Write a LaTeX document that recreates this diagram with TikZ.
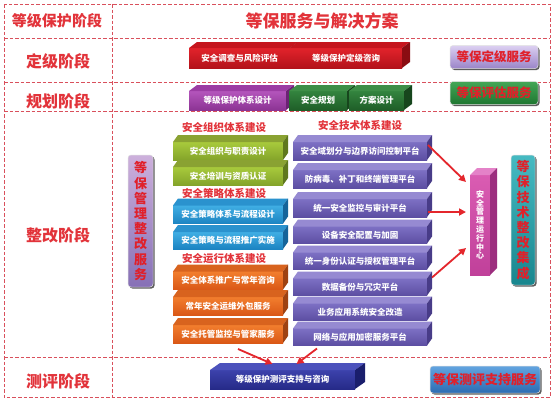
\documentclass[tikz,border=0pt]{standalone}
\usepackage{fontspec}
\setmainfont{Noto Sans CJK SC}
\usetikzlibrary{arrows.meta,shadows,calc}
% red
\definecolor{rdF}{HTML}{E2232B}\definecolor{rdB}{HTML}{B3121A}\definecolor{rdT}{HTML}{C5151D}\definecolor{rdS}{HTML}{8A0D12}
% magenta purple
\definecolor{puF}{HTML}{B455BC}\definecolor{puB}{HTML}{8C3494}\definecolor{puT}{HTML}{9C3CA4}\definecolor{puS}{HTML}{6C2274}
% dark green
\definecolor{dgF}{HTML}{33843E}\definecolor{dgB}{HTML}{1F5E28}\definecolor{dgT}{HTML}{3E8E47}\definecolor{dgS}{HTML}{17461D}
% light green
\definecolor{lgF}{HTML}{A8CA3C}\definecolor{lgB}{HTML}{84A42A}\definecolor{lgT}{HTML}{8AA232}\definecolor{lgS}{HTML}{5F781E}
% blue
\definecolor{blF}{HTML}{40AEE4}\definecolor{blB}{HTML}{1C84C2}\definecolor{blT}{HTML}{2A92CE}\definecolor{blS}{HTML}{15649A}
% orange
\definecolor{orF}{HTML}{F27E2E}\definecolor{orB}{HTML}{DA5816}\definecolor{orT}{HTML}{D8631E}\definecolor{orS}{HTML}{9E4212}
% tech purple
\definecolor{tpF}{HTML}{7D70C4}\definecolor{tpB}{HTML}{5C4EA2}\definecolor{tpT}{HTML}{968AD2}\definecolor{tpS}{HTML}{483C88}
% indigo
\definecolor{inF}{HTML}{3C42AC}\definecolor{inB}{HTML}{262A88}\definecolor{inT}{HTML}{4C52BC}\definecolor{inS}{HTML}{1A1E6C}
% pink
\definecolor{pkF}{HTML}{DA5CB2}\definecolor{pkB}{HTML}{C0409A}\definecolor{pkT}{HTML}{E482C8}\definecolor{pkS}{HTML}{9C2E7E}
% buttons
\definecolor{lvT}{HTML}{DCD0F2}\definecolor{lvB}{HTML}{9A84C8}
\definecolor{gnT}{HTML}{44A656}\definecolor{gnB}{HTML}{1E7630}
\definecolor{bbT}{HTML}{62A4E0}\definecolor{bbB}{HTML}{2C6CB2}
\definecolor{vpT}{HTML}{CDB0DC}\definecolor{vpB}{HTML}{8670B6}
\definecolor{tlT}{HTML}{46BAC2}\definecolor{tlB}{HTML}{18868E}
\definecolor{hdred}{HTML}{E2333A}
\definecolor{btnred}{HTML}{E0202A}
\definecolor{gridred}{HTML}{D9505C}
\definecolor{arrred}{HTML}{E4262C}
\newcommand\cubebox[8][]{%
  \node[frontbox, minimum width=#4pt, minimum height=#5pt, top color=#7F, bottom color=#7B, #1] (#2) at (#3) {#8};
  \fill[#7T] (#2.north west) -- ++(#6) -- ($(#2.north east)+(#6)$) -- (#2.north east) -- cycle;
  \fill[#7S] (#2.north east) -- ++(#6) -- ($(#2.south east)+(#6)$) -- (#2.south east) -- cycle;
}
\begin{document}
\begin{tikzpicture}[x=1pt,y=-1pt,
  grid/.style={draw=gridred, line width=0.9pt, dash pattern=on 3.5pt off 2pt},
  head/.style={text=hdred, font=\fontsize{16}{18}\selectfont\bfseries, inner sep=0},
  frontbox/.style={inner sep=0, outer sep=0, text=white, align=center, font=\fontsize{8.5}{10}\selectfont\bfseries},
  sect/.style={text=hdred, font=\fontsize{10.5}{12}\selectfont\bfseries, inner sep=0},
  btn/.style={rounded corners=3pt, inner sep=0, draw=white!75!gray, line width=0.5pt, align=center,
    drop shadow={shadow xshift=1.5pt, shadow yshift=-1.5pt, fill=black!75, opacity=0.85},
    text=btnred, font=\fontsize{12.5}{14}\selectfont\bfseries},
  vbtn/.style={font=\fontsize{13}{15.2}\selectfont\bfseries},
  arr/.style={draw=arrred, line width=1.8pt, -{Triangle[length=7pt,width=7pt]}},
]
\useasboundingbox (0,0) rectangle (554,400);
\fill[white] (0,0) rectangle (554,400);
% grid
\draw[grid] (4,4) rectangle (550,397);
\draw[grid] (112,4) -- (112,397);
\foreach \yy in {38,82,111,357} \draw[grid] (4,\yy) -- (550,\yy);
% headers
\node[head, font=\fontsize{15}{17}\selectfont\bfseries] (hstage) at (57,21) {等级保护阶段};
\node[head, font=\fontsize{17}{19}\selectfont\bfseries] (htitle) at (322,21) {等保服务与解决方案};
\node[head] (h1) at (58,61) {定级阶段};
\node[head] (h2) at (58,101) {规划阶段};
\node[head] (h3) at (58,235) {整改阶段};
\node[head] (h4) at (58,381) {测评阶段};
% row 1
\cubebox{r1}{239.5,58}{101}{20}{8,-6}{rd}{安全调查与风险评估}
\cubebox{r2}{346,58}{112}{20}{8,-6}{rd}{等级保护定级咨询}
% row 2
\cubebox{p1}{237.5,100.5}{97}{19}{8,-6}{pu}{等级保护体系设计}
\cubebox{p2}{318,100.5}{58}{19}{8,-6}{dg}{安全规划}
\cubebox{p3}{376.5,100.5}{55}{19}{8,-6}{dg}{方案设计}
% buttons right
\node[btn, minimum width=88pt, minimum height=23pt, top color=lvT, bottom color=lvB] (bdj) at (494,57) {等保定级服务};
\node[btn, minimum width=88pt, minimum height=23pt, top color=gnT, bottom color=gnB] (bpg) at (494,93) {等保评估服务};
% management side
\node[sect] (s1) at (224,127) {安全组织体系建设};
\node[sect] (s2) at (224,193) {安全策略体系建设};
\node[sect] (s3) at (224,259) {安全运行体系建设};
\node[sect] (s4) at (360,125) {安全技术体系建设};
\cubebox{g1}{228,151}{110}{18}{5,-7}{lg}{安全组织与职责设计}
\cubebox{g2}{228,176}{110}{18}{5,-7}{lg}{安全培训与资质认证}
\cubebox{b1}{228,214.5}{110}{18}{5,-7}{bl}{安全策略体系与流程设计}
\cubebox{b2}{228,240.5}{110}{17}{5,-7}{bl}{安全策略与流程推广实施}
\cubebox{o1}{228,280.5}{110}{18}{5,-7}{or}{安全体系推广与常年咨询}
\cubebox{o2}{228,306}{110}{18}{5,-7}{or}{常年安全运维外包服务}
\cubebox{o3}{228,334}{110}{18}{5,-7}{or}{安全托管监控与管家服务}
% technical side
\cubebox{t1}{360,151}{134}{18}{5,-7}{tp}{安全域划分与边界访问控制平台}
\cubebox{t2}{360,179}{134}{18}{5,-7}{tp}{防病毒、补丁和终端管理平台}
\cubebox{t3}{360,208}{134}{18}{5,-7}{tp}{统一安全监控与审计平台}
\cubebox{t4}{360,235}{134}{17}{5,-7}{tp}{设备安全配置与加固}
\cubebox{t5}{360,261}{134}{17}{5,-7}{tp}{统一身份认证与授权管理平台}
\cubebox{t6}{360,287}{134}{17}{5,-7}{tp}{数据备份与冗灾平台}
\cubebox{t7}{360,312}{134}{17}{5,-7}{tp}{业务应用系统安全改造}
\cubebox{t8}{360,337}{134}{17}{5,-7}{tp}{网络与应用加密服务平台}
% center
\cubebox[font=\fontsize{8}{8.8}\selectfont\bfseries]{ctr}{480,225}{20}{100}{7,-7}{pk}{安\\全\\管\\理\\运\\行\\中\\心}
% vertical buttons
\node[btn, vbtn, minimum width=25pt, minimum height=132pt, top color=vpT, bottom color=vpB] (bgl) at (140.5,221) {等\\保\\管\\理\\整\\改\\服\\务};
\node[btn, vbtn, minimum width=24pt, minimum height=130pt, top color=tlT, bottom color=tlB] (bjs) at (523,220) {等\\保\\技\\术\\整\\改\\集\\成};
% evaluation
\cubebox{ev}{282.5,379.5}{145}{19}{10,-7}{in}{等级保护测评支持与咨询}
\node[btn, minimum width=110pt, minimum height=27pt, top color=bbT, bottom color=bbB, font=\fontsize{13}{15}\selectfont\bfseries] (bcp) at (485,379.5) {等保测评支持服务};
% arrows
\draw[arr] ($(t1.north east)+(1,3)$) -- ($(ctr.north west)+(-4,7)$);
\draw[arr] ($(t3.east)+(1,4)$) -- ($(t3.east -| ctr.west)+(-4,4)$);
\draw[arr] ($(t6.north east)+(5,-1)$) -- ($(ctr.west)+(-4,23)$);
\draw[arr] ($(o3.south)+(10,6)$) -- ($(ev.north)+(-10,-6)$);
\draw[arr] ($(t8.south)+(-43,3)$) -- ($(ev.north)+(14,-6)$);
\end{tikzpicture}
\end{document}
